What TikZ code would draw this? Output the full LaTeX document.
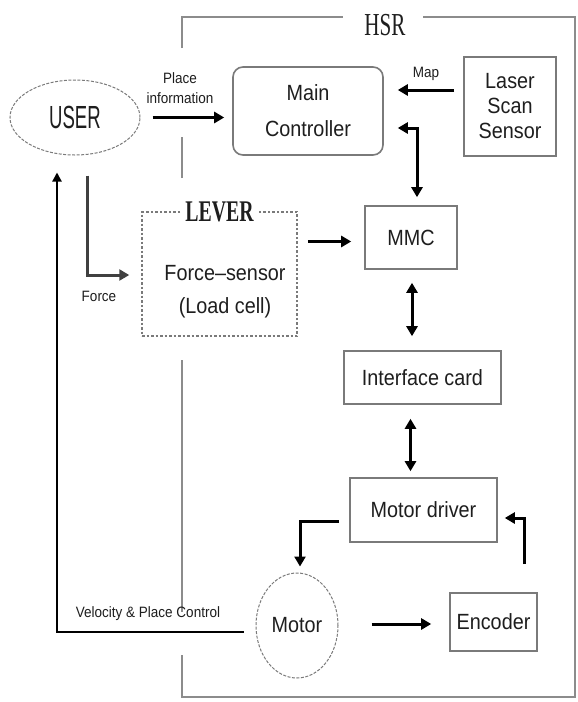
\documentclass[tikz,border=0pt]{standalone}
\usepackage{fontspec}
\setmainfont{Liberation Sans}[FakeStretch=0.9]
\newfontfamily\narrowsans{Liberation Sans}[FakeStretch=0.58]
\newfontfamily\narrowserif{Liberation Serif}[FakeStretch=0.66]
\usetikzlibrary{arrows.meta,shapes.geometric,calc}
\definecolor{boxgray}{HTML}{7A7A7A}
\definecolor{framegray}{HTML}{8C8C8C}
\definecolor{inkc}{HTML}{1E1E1E}
\tikzset{
  box/.style={draw=boxgray, line width=1.6pt, rectangle, inner sep=0pt, align=center,
              text=inkc, font=\fontsize{22}{36}\selectfont},
  oval/.style={draw=boxgray, line width=1pt, ellipse, inner sep=0pt,
               dash pattern=on 3pt off 1.5pt, text=inkc},
  lbl/.style={text=inkc, inner sep=0pt, align=center, font=\fontsize{15}{20}\selectfont},
  arr/.style={draw=black, line width=3pt, -{Triangle[length=10pt,width=11pt]}},
  darr/.style={draw=black, line width=3pt, {Triangle[length=10pt,width=11pt]}-{Triangle[length=10pt,width=11pt]}},
  farr/.style={draw=black!75, line width=3pt, -{Triangle[length=10pt,width=11pt]}},
  varr/.style={draw=black, line width=2pt, -{Triangle[length=9pt,width=9pt]}},
  frame/.style={draw=framegray, line width=1.5pt},
}
\begin{document}
\begin{tikzpicture}[x=1pt,y=-1pt]
\useasboundingbox[fill=white] (0,0) rectangle (578,702);

% HSR frame
\draw[frame] (182,48) -- (182,17) -- (343,17);
\draw[frame] (423,17) -- (575,17) -- (575,697) -- (182,697) -- (182,655);
\draw[frame] (182,612) -- (182,360);
\draw[frame] (182,178) -- (182,137);
\node[text=inkc, inner sep=0pt, font=\narrowserif\fontsize{32}{32}\selectfont] (hsr) at (385,25) {HSR};

% nodes
\node[oval, minimum width=130pt, minimum height=75pt, font=\narrowsans\fontsize{32}{32}\selectfont] (user) at (75,117.5) {USER};
\node[box, rounded corners=10pt, minimum width=150pt, minimum height=88pt] (mc) at (308,111) {Main\\Controller};
\node[box, minimum width=92pt, minimum height=99pt, font=\fontsize{22}{25}\selectfont] (laser) at (510,106.5) {Laser\\Scan\\Sensor};
\node[box, minimum width=92pt, minimum height=63pt] (mmc) at (411,237.5) {MMC};
\node[box, minimum width=157pt, minimum height=53pt] (iface) at (422.5,377.5) {Interface card};
\node[box, minimum width=147pt, minimum height=64pt] (driver) at (423.5,510) {Motor driver};
\node[box, minimum width=87pt, minimum height=58pt] (encoder) at (493.5,622) {Encoder};
\node[oval, minimum width=82pt, minimum height=105pt, font=\fontsize{22}{22}\selectfont] (motor) at (297,625.5) {Motor};

% lever
\node[draw=boxgray, line width=1.5pt, dash pattern=on 2.5pt off 2pt, rectangle,
      minimum width=155pt, minimum height=124pt, inner sep=0pt] (lever) at (219.5,274) {};
\node[fill=white, inner xsep=4pt, inner ysep=0pt, text=inkc,
      font=\narrowserif\bfseries\fontsize{30}{30}\selectfont] (levertitle) at (219.5,212) {LEVER};
\node[text=inkc, align=center, inner sep=0pt, font=\fontsize{22}{33}\selectfont] (levertext) at (225,292) {Force–sensor\\(Load cell)};

% labels
\node[lbl] (lplace) at (180,88) {Place\\information};
\node[lbl] (lmap) at (426,74) {Map};
\node[lbl] (lforce) at (99,296) {Force};
\node[lbl] (lvel) at (148,614) {Velocity \& Place Control};

% connectors
\draw[arr] ([xshift=12pt]user.east) -- ($(mc.west |- user.east)+(-8,0)$);
\draw[arr] ($(laser.west)+(-9,-16.5)$) -- ($(mc.east |- 0,90)+(14,0)$);
\draw[darr] ($(mc.east)+(14,17)$) -| ($(mmc.north)+(6,-8)$);
\draw[arr] ($(lever.east |- mmc.west)+(10,4)$) -- ($(mmc.west)+(-13,4)$);
\draw[farr] ($(user.south)+(12,20)$) |- ($(lever.west)+(-12,1)$);
\draw[varr] ($(motor.west)+(-12,6.5)$) -| ($(user.south)+(-18,17)$);
\draw[darr] ($(mmc.south)+(1,13)$) -- ($(mmc.south |- iface.north)+(1,-14)$);
\draw[darr] ($(iface.south)+(-12,14)$) -- ($(iface.south |- driver.north)+(-12,-6)$);
\draw[arr] ($(driver.west)+(-10,11)$) -| ($(motor.north)+(3,-6)$);
\draw[arr] ($(motor.east)+(33,-1.5)$) -- ($(encoder.west |- motor.east)+(-18,-1.5)$);
\draw[arr] ($(encoder.north)+(31,-28)$) |- ($(driver.east)+(7,8)$);
\end{tikzpicture}
\end{document}
